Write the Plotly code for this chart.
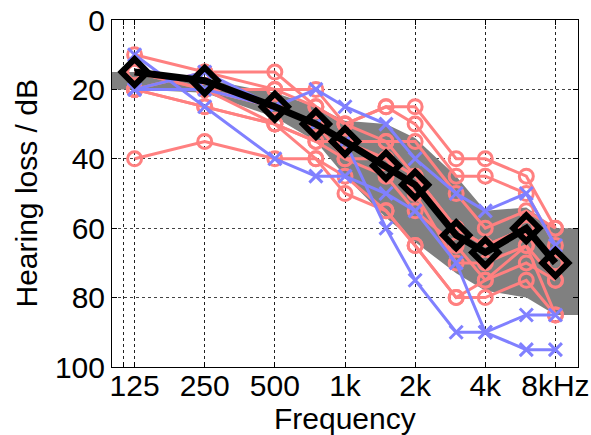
import plotly.graph_objects as go

freqs = [125, 250, 500, 750, 1000, 1500, 2000, 3000, 4000, 6000, 8000]
tick_vals = [112, 125, 250, 500, 1000, 2000, 4000, 8000]
tick_text = ["", "125", "250", "500", "1k", "2k", "4k", "8kHz"]
y_ticks = [0, 20, 40, 60, 80, 100]

band_upper = [15, 17, 21, 25, 29, 30, 34, 45, 55, 54, 60]
band_lower = [20, 21, 28, 35, 45, 57, 64, 73, 78, 80, 85]

red_subjects = [
    [10, 15, 15, 25, 30, 25, 25, 40, 40, 45, 60],
    [20, 15, 20, 20, 30, 25, 30, 45, 45, 50, 65],
    [20, 20, 25, 30, 35, 35, 35, 50, 60, 55, 60],
    [20, 25, 30, 35, 40, 40, 45, 60, 65, 60, 70],
    [40, 35, 40, 40, 50, 55, 65, 80, 80, 75, 85],
    [20, 20, 25, 30, 40, 45, 55, 65, 75, 70, 75],
    [15, 20, 30, 35, 35, 40, 50, 70, 70, 65, 75],
    [20, 25, 30, 40, 45, 55, 65, 80, 75, 65, 85],
    [15, 20, 20, 25, 30, 35, 45, 60, 65, 60, 70],
]
blue_subjects = [
    [10, 25, 40, 45, 45, 50, 55, 70, 90, 95, 95],
    [20, 15, 25, 20, 25, 30, 40, 50, 55, 50, 65],
    [20, 20, 25, 30, 35, 60, 75, 90, 90, 85, 85],
]
average = [15, 17.5, 25, 30, 35, 42, 47.5, 62, 67, 60, 70]

x_title = "Frequency"
y_title = "Hearing loss / dB"
x_min, x_max = 100, 10000

fig = go.Figure()

bx = [x_min] + freqs + [x_max]
bu = [band_upper[0]] + band_upper + [band_upper[-1]]
bl = [band_lower[0]] + band_lower + [band_lower[-1]]
fig.add_trace(go.Scatter(
    x=bx + bx[::-1], y=bu + bl[::-1], fill="toself", mode="lines",
    fillcolor="#808080", line=dict(width=0), hoverinfo="skip", showlegend=False))

RED = "#FF8080"
BLUE = "#8080FF"
for s in red_subjects:
    fig.add_trace(go.Scatter(
        x=freqs, y=s, mode="lines+markers", showlegend=False,
        line=dict(color=RED, width=3),
        marker=dict(symbol="circle-open", size=14, color=RED, line=dict(width=3, color=RED))))
for s in blue_subjects:
    fig.add_trace(go.Scatter(
        x=freqs, y=s, mode="lines+markers", showlegend=False,
        line=dict(color=BLUE, width=3),
        marker=dict(symbol="x-thin-open", size=13, color=BLUE, line=dict(width=3, color=BLUE))))

fig.add_trace(go.Scatter(
    x=freqs, y=average, mode="lines+markers", showlegend=False,
    line=dict(color="black", width=7),
    marker=dict(symbol="diamond-open", size=20, color="black", line=dict(width=6, color="black"))))

tick_font = dict(family="Liberation Sans, Arial, sans-serif", size=30, color="black")
title_font = dict(family="Liberation Sans, Arial, sans-serif", size=30, color="black")

fig.update_layout(
    width=591, height=435,
    margin=dict(l=112, r=13, t=20, b=68),
    paper_bgcolor="white", plot_bgcolor="white",
    font=tick_font,
    xaxis=dict(
        type="log", range=[2, 4], automargin=False,
        tickvals=tick_vals, ticktext=tick_text,
        ticks="inside", ticklen=5, tickcolor="black", tickwidth=1,
        showline=True, linecolor="black", linewidth=1, mirror="ticks",
        showgrid=True, gridcolor="#222", griddash="dot", gridwidth=1,
        zeroline=False, tickfont=tick_font, ticklabelstandoff=-8,
    ),
    yaxis=dict(
        range=[100, 0], tickvals=y_ticks, automargin=False,
        ticks="inside", ticklen=5, tickcolor="black", tickwidth=1,
        showline=True, linecolor="black", linewidth=1, mirror="ticks",
        showgrid=True, gridcolor="#444", griddash="dot", gridwidth=1,
        zeroline=False, tickfont=tick_font,
    ),
    annotations=[
        dict(text=x_title, xref="paper", yref="paper", x=0.5, y=0,
             xanchor="center", yanchor="top", yshift=-33, showarrow=False,
             font=title_font),
        dict(text=y_title, xref="paper", yref="paper", x=0, y=0.5,
             xanchor="center", yanchor="middle", xshift=-86, textangle=-90,
             showarrow=False, font=title_font),
    ],
)

fig.write_html("out.html")
